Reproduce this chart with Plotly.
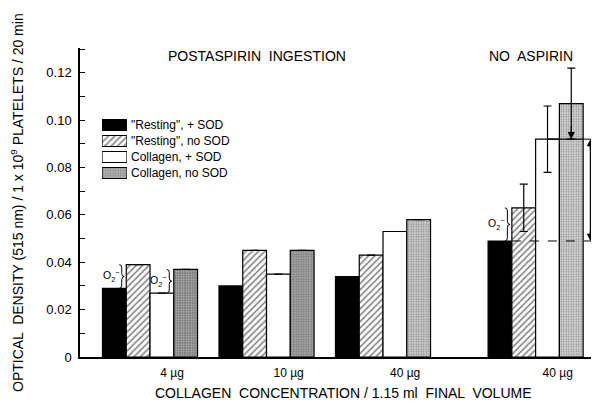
import plotly.graph_objects as go

# ---------------- data ----------------
group_labels = ["4 \u00b5g", "10 \u00b5g", "40 \u00b5g", "40 \u00b5g"]
series_names = ['"Resting", + SOD', '"Resting", no SOD', "Collagen, + SOD", "Collagen, no SOD"]
resting_sod = [0.029, 0.030, 0.034, 0.049]
resting_nosod = [0.039, 0.045, 0.043, 0.063]
collagen_sod = [0.027, 0.035, 0.053, 0.092]
collagen_nosod = [0.037, 0.045, 0.058, 0.107]
err_resting_nosod = [0, 0, 0, 0.010]
err_collagen_sod = [0, 0, 0, 0.014]
err_collagen_nosod = [0, 0, 0, 0.015]
y_tick_vals = [0, 0.02, 0.04, 0.06, 0.08, 0.10, 0.12]
y_tick_text = ["0", "0.02", "0.04", "0.06", "0.08", "0.10", "0.12"]

# ---------------- layout constants ----------------
OFF = 8                         # page body margin of the html document
group_pos = [0.0, 1.0, 2.0, 3.31]
BW = 0.204                      # bar width (x units)
PXU = 1 / 116.5                 # one pixel in x units
offsets = [-1.5 * BW, -0.5 * BW, 0.5 * BW, 1.5 * BW]
FONT = "Liberation Sans, Arial, sans-serif"
LW = 1.2

def px_x(px):   # window pixel -> paper x
    return (px - 80) / 519

def px_y(py):   # window pixel -> paper y
    return (357 - py) / 309

hatch = dict(shape="/", fgcolor="black", bgcolor="white", size=4.5, solidity=0.33)
stipple_bg = ["#7d7d7d", "#a2a2a2", "#cacaca", "#d2d2d2"]
styles = [
    dict(color="black"),
    dict(color="white", pattern=hatch),
    dict(color="white"),
    dict(color=stipple_bg, pattern=dict(shape=".", fgcolor="#555555", size=2.5, solidity=0.3, fillmode="overlay")),
]
values = [resting_sod, resting_nosod, collagen_sod, collagen_nosod]
errors = [None, err_resting_nosod, err_collagen_sod, err_collagen_nosod]

fig = go.Figure()
for k in range(4):
    marker = dict(styles[k])
    marker["line"] = dict(color="black", width=LW)
    err = None
    if errors[k] is not None:
        err = dict(type="data", array=errors[k], visible=True, color="black", thickness=LW, width=4)
    fig.add_trace(go.Bar(
        x=[g + offsets[k] for g in group_pos], y=values[k], width=BW,
        marker=marker, error_y=err, showlegend=False, hoverinfo="skip",
        xaxis="x", yaxis="y",
    ))

# legend drawn as a small horizontal-bar panel
leg_style = [
    dict(color="black"),
    dict(color="white", pattern=hatch),
    dict(color="white"),
    dict(color="#b0b0b0", pattern=dict(shape=".", fgcolor="#555555", size=2.5, solidity=0.3, fillmode="overlay")),
]
for k in range(4):
    m = dict(leg_style[k])
    m["line"] = dict(color="black", width=LW)
    fig.add_trace(go.Bar(
        x=[1], y=[series_names[k]], orientation="h", width=0.69,
        marker=m, showlegend=False, hoverinfo="skip", xaxis="x2", yaxis="y2",
    ))

shapes = []
annotations = []

# O2- braces
def brace(xr, y0, y1):
    w = 5 * PXU
    xl, xm = xr - w, xr - w / 2
    d = 0.0013
    ym = (y0 + y1) / 2
    return (f"M {xl},{y1} Q {xm},{y1} {xm},{y1-d} L {xm},{ym+d} "
            f"Q {xm},{ym} {xr},{ym} Q {xm},{ym} {xm},{ym-d} L {xm},{y0+d} Q {xm},{y0} {xl},{y0}")

o2_marks = [(0, resting_sod, resting_nosod, 1), (0, collagen_sod, collagen_nosod, 3), (3, resting_sod, resting_nosod, 1)]
for gi, lo, hi, k in o2_marks:
    left_edge = group_pos[gi] + offsets[k] - BW / 2
    shapes.append(dict(type="path", path=brace(left_edge - 2 * PXU, lo[gi], hi[gi]),
                       xref="x", yref="y", line=dict(color="black", width=1)))
    annotations.append(dict(x=left_edge - 15 * PXU, y=(lo[gi] + hi[gi]) / 2, xref="x", yref="y",
                            xanchor="center", yanchor="middle",
                            text="O<sub>2</sub><sup>\u2212</sup>", showarrow=False,
                            font=dict(size=10.5, color="black", family=FONT)))

# reference lines in the no-aspirin group
g4 = group_pos[3]
x_end = 3.85
x_arrow = 3.78
y_low, y_high = resting_sod[3], collagen_sod[3]
shapes.append(dict(type="line", xref="x", yref="y", x0=g4 + offsets[0] + BW / 2, x1=x_end,
                   y0=y_low, y1=y_low, line=dict(color="black", width=1, dash="dash")))
shapes.append(dict(type="line", xref="x", yref="y", x0=g4 + offsets[2], x1=g4 + offsets[3] + BW / 2,
                   y0=y_high, y1=y_high, line=dict(color="black", width=LW)))
shapes.append(dict(type="line", xref="x", yref="y", x0=g4 + offsets[3] + BW / 2, x1=x_end,
                   y0=y_high, y1=y_high, line=dict(color="black", width=1, dash="dash")))
shapes.append(dict(type="line", xref="x", yref="y", x0=x_arrow, x1=x_arrow,
                   y0=y_low + 0.001, y1=y_high - 0.001, line=dict(color="black", width=1.2)))
for yt, ys in [(y_high, y_high - 0.005), (y_low, y_low + 0.005)]:
    annotations.append(dict(x=x_arrow, y=yt, ax=x_arrow, ay=ys, xref="x", yref="y", axref="x", ayref="y",
                            text="", showarrow=True, arrowhead=2, arrowsize=1.2,
                            arrowwidth=1.2, arrowcolor="black"))
annotations.append(dict(x=g4 + offsets[3], y=y_high, ax=g4 + offsets[3], ay=y_high + 0.006,
                        xref="x", yref="y", axref="x", ayref="y", text="", showarrow=True,
                        arrowhead=2, arrowsize=1.2, arrowwidth=1.2, arrowcolor="black"))

# titles
title_font = dict(size=14, color="black", family=FONT)
annotations += [
    dict(x=px_x(257), y=px_y(56), xref="paper", yref="paper", xanchor="center", yanchor="middle",
         text="POSTASPIRIN  INGESTION", showarrow=False, font=title_font),
    dict(x=px_x(531), y=px_y(56), xref="paper", yref="paper", xanchor="center", yanchor="middle",
         text="NO  ASPIRIN", showarrow=False, font=title_font),
    dict(x=px_x(343), y=px_y(393), xref="paper", yref="paper", xanchor="center", yanchor="middle",
         text="COLLAGEN  CONCENTRATION / 1.15 ml  FINAL  VOLUME", showarrow=False, font=title_font),
    dict(x=px_x(17), y=px_y(203), xref="paper", yref="paper", xanchor="center", yanchor="middle",
         textangle=-90, text="OPTICAL  DENSITY (515 nm) / 1 x 10<sup>9</sup> PLATELETS / 20 min",
         showarrow=False, font=title_font),
]

fig.update_layout(
    width=599 - OFF, height=401 - OFF,
    margin=dict(l=80 - OFF, r=0, t=48 - OFF, b=44, autoexpand=False),
    paper_bgcolor="white", plot_bgcolor="white",
    barmode="overlay",
    font=dict(family=FONT, color="black"),
    shapes=shapes, annotations=annotations,
    xaxis=dict(range=[-0.601, 3.854], showline=True, linecolor="black", linewidth=1.5,
               showgrid=False, zeroline=False, ticks="",
               tickvals=[g + 0.19 for g in group_pos], ticktext=group_labels,
               tickfont=dict(size=12, color="black", family=FONT), ticklabelstandoff=4),
    yaxis=dict(range=[0, 0.1305], showline=True, linecolor="black", linewidth=1.5,
               showgrid=False, zeroline=False, ticks="inside", ticklen=5, tickcolor="black",
               tickvals=y_tick_vals, ticktext=y_tick_text,
               minor=dict(ticks="inside", ticklen=5, tickcolor="black", dtick=0.01, showgrid=False),
               tickfont=dict(size=13, color="black", family=FONT), ticklabelstandoff=4),
    xaxis2=dict(domain=[px_x(102), px_x(127)], range=[0, 1], anchor="y2", visible=False),
    yaxis2=dict(domain=[px_y(181), px_y(117)], anchor="x2", side="right",
                categoryorder="array", categoryarray=series_names[::-1],
                showline=False, showgrid=False, zeroline=False, ticks="",
                tickfont=dict(size=12, color="black", family=FONT), ticklabelstandoff=3),
)

fig.write_html("out.html")
